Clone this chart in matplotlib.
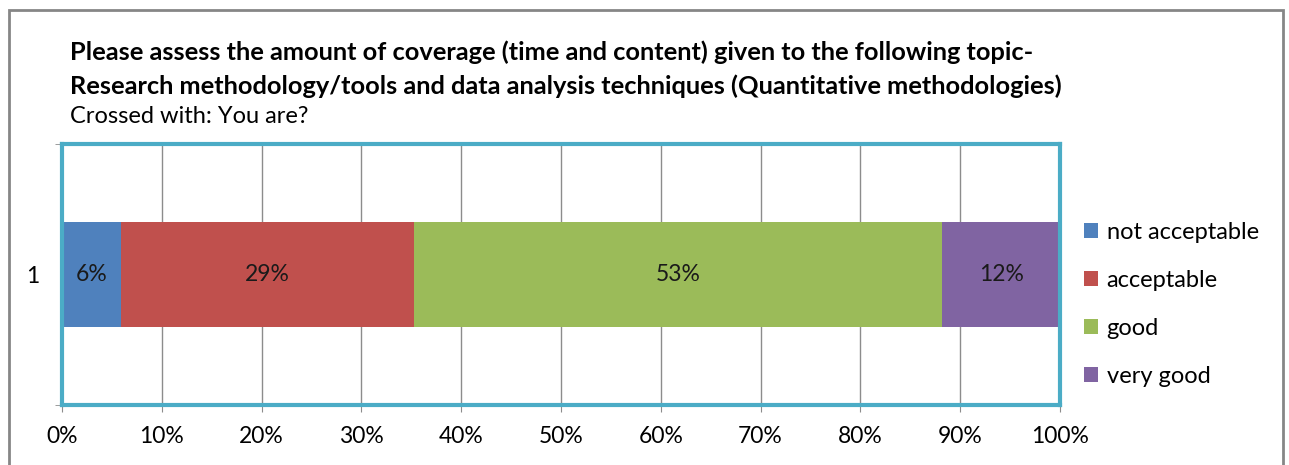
import matplotlib.pyplot as plt
from matplotlib.patches import Rectangle
from matplotlib.ticker import PercentFormatter

plt.rcParams['font.family'] = ['Lato', 'DejaVu Sans']

categories = ['1']
series = ['not acceptable', 'acceptable', 'good', 'very good']
values = [5.9, 29.4, 52.9, 11.8]
labels = ['6%', '29%', '53%', '12%']
colors = ['#4F81BD', '#C0504D', '#9BBB59', '#8064A2']

fig = plt.figure(figsize=(12.89, 4.65), dpi=100)
ax = fig.add_axes([62 / 1289, 60 / 465, 998 / 1289, 261 / 465])

left = 0
for name, v, lab, c in zip(series, values, labels, colors):
    ax.barh(categories, [v], left=[left], height=0.4, color=c, label=name, zorder=2)
    ax.text(left + v / 2, 0, lab, ha='center', va='center', fontsize=16.5, color='#1a1a1a', zorder=3)
    left += v

ax.set_xlim(0, 100)
ax.set_ylim(-0.5, 0.5)
ax.set_xticks(range(0, 101, 10))
ax.xaxis.set_major_formatter(PercentFormatter(decimals=0))
ax.grid(axis='x', color='#8c8c8c', linewidth=1, zorder=0)
ax.set_yticks([0])
ax.set_yticklabels(categories)
ax.set_yticks([-0.5, 0.5], minor=True)
ax.tick_params(axis='y', which='major', length=0, pad=16, labelsize=16.5)
ax.tick_params(axis='y', which='minor', length=5, color='#8c8c8c', direction='out')
ax.tick_params(axis='x', length=5, color='#8c8c8c', labelsize=16.5, pad=10)
for s in ax.spines.values():
    s.set_color('#4BACC6')
    s.set_linewidth(3)

ax.legend(loc='center left', bbox_to_anchor=(1.003, 0.385), frameon=False, fontsize=17,
          handlelength=0.6, handleheight=0.6, handletextpad=0.35, labelspacing=1.15)

title_lines = ['Please assess the amount of coverage (time and content) given to the following topic-',
               'Research methodology/tools and data analysis techniques (Quantitative methodologies)']
for y, line in zip([52, 86], title_lines):
    fig.text(70 / 1289, 1 - y / 465, line, fontsize=18.3, fontweight='bold', va='center')
fig.text(70 / 1289, 1 - 116 / 465, 'Crossed with: You are?', fontsize=17, va='center')

# outer chart border
fig.patches.append(Rectangle((9 / 1289, -0.05), 1274 / 1289, 1 - 10 / 465 + 0.05,
                             transform=fig.transFigure, fill=False, edgecolor='#868686',
                             linewidth=2))

fig.savefig('out.png', dpi=100)
